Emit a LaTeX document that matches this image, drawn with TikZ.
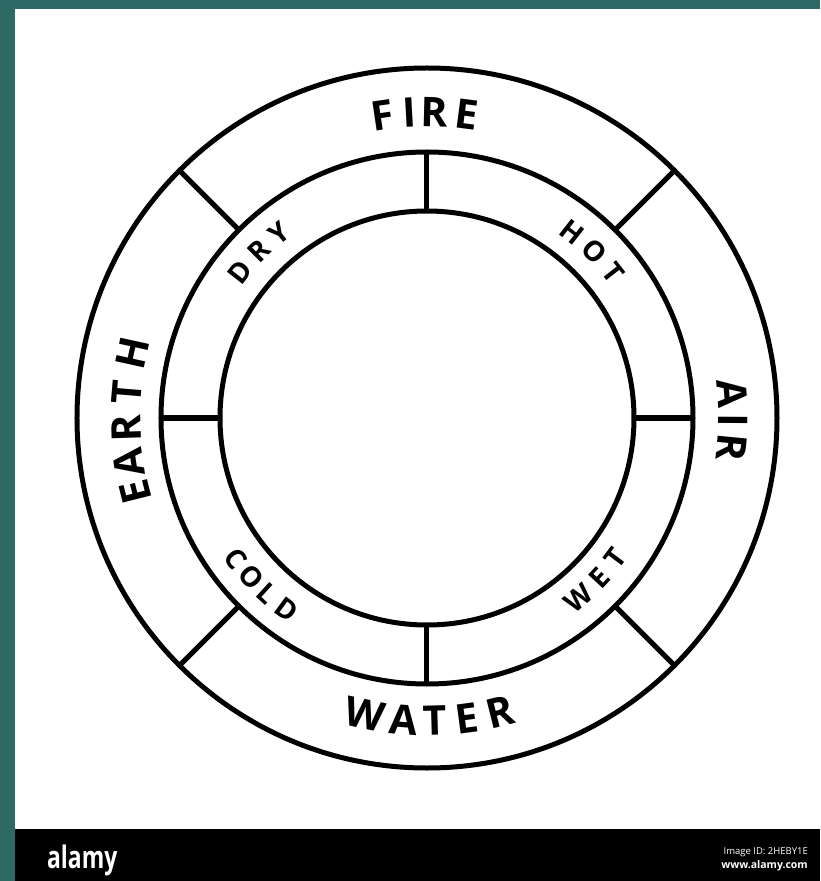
\documentclass[tikz,border=0pt]{standalone}
\usepackage{fontspec}
\setmainfont{Open Sans}
\definecolor{tealframe}{RGB}{46,105,101}
\tikzset{
  ring/.style={draw=black, line width=5pt},
  divider/.style={draw=black, line width=5pt},
  bigletter/.style={font=\fontsize{41}{41}\selectfont\bfseries, inner sep=0pt, anchor=center},
  smallletter/.style={font=\fontsize{28}{28}\selectfont\bfseries, inner sep=0pt, anchor=center},
  logo/.style={text=white, inner sep=0pt}
}
\begin{document}
\begin{tikzpicture}[x=1pt,y=1pt]
% frame (origin = circle centre; 1pt = 1px of reference)
\fill[tealframe] (-427,-463) rectangle (393,418);
\useasboundingbox (-427,-463) rectangle (393,418);
\fill[white] (-412,409) rectangle (393,-411);
\fill[black] (-412,-411) rectangle (393,-463);
% circles
\coordinate (c) at (0,0);
\draw[ring] (c) circle[radius=350];
\draw[ring] (c) circle[radius=266];
\draw[ring] (c) circle[radius=207];
% dividers of middle ring
\foreach \a in {0,90,180,270}
  \draw[divider] (\a:207) -- (\a:266);
% dividers of outer ring
\foreach \a in {45,135,225,315}
  \draw[divider] (\a:266) -- (\a:350);
% outer words (tops outward)
\foreach \ch/\ang [count=\i] in {F/98.4, I/93.2, R/88.6, E/82.6}
  \node[bigletter, rotate=\ang-90] (fire\i) at (\ang:306) {\ch};
\foreach \ch/\ang [count=\i] in {A/4.7, I/-0.4, R/-5.6}
  \node[bigletter, rotate=\ang-90] (air\i) at (\ang:306) {\ch};
\foreach \ch/\ang [count=\i] in {E/194.2, A/188.5, R/181.9, T/175.2, H/167.6}
  \node[bigletter, rotate=\ang-90] (earth\i) at (\ang:301) {\ch};
% WATER (tops inward)
\foreach \ch/\ang [count=\i] in {W/258.2, A/265.6, T/271.6, E/277.6, R/284.0}
  \node[bigletter, rotate=\ang+90] (water\i) at (\ang:303) {\ch};
% inner words
\foreach \ch/\ang [count=\i] in {D/141.9, R/135.0, Y/128.6}
  \node[smallletter, rotate=\ang-90] (dry\i) at (\ang:237) {\ch};
\foreach \ch/\ang [count=\i] in {H/52.0, O/44.8, T/38.0}
  \node[smallletter, rotate=\ang-90] (hot\i) at (\ang:236) {\ch};
\foreach \ch/\ang [count=\i] in {C/216.4, O/222.2, L/227.6, D/233.8}
  \node[smallletter, rotate=\ang+90] (cold\i) at (\ang:237) {\ch};
\foreach \ch/\ang [count=\i] in {W/310.0, E/317.2, T/323.3}
  \node[smallletter, rotate=\ang+90] (wet\i) at (\ang:235) {\ch};
% watermark bar
\node[logo, anchor=west, font=\fontsize{31}{31}\selectfont\bfseries, xscale=0.74] (alamy) at (-380,-442) {alamy};
\node[logo, anchor=east, font=\fontsize{9.5}{9.5}\selectfont] (imgid) at (381,-434) {Image ID: 2HEBY1E};
\node[logo, anchor=east, font=\fontsize{10.5}{10.5}\selectfont\bfseries] (www) at (381,-448) {www.alamy.com};
\end{tikzpicture}
\end{document}
